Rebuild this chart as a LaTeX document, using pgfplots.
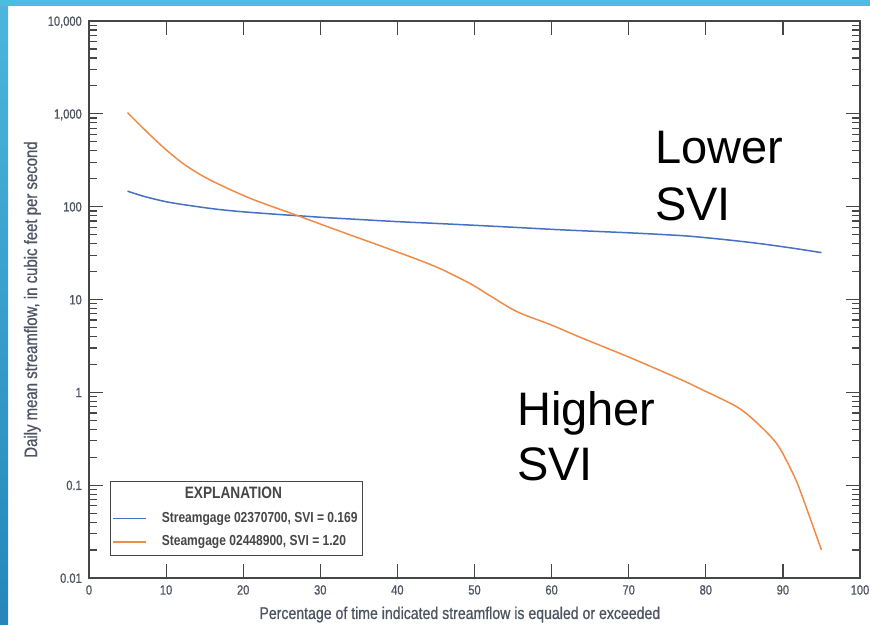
\documentclass[border=0pt]{standalone}
\usepackage{fontspec}
\setmainfont{Liberation Sans}
\newfontfamily\condfont[FakeStretch=0.83]{Liberation Sans}
\newfontfamily\condmed[FakeStretch=0.83, RawFeature={embolden=0.7}]{Liberation Sans}
\newfontfamily\annfont{Liberation Sans}
\usepackage{pgfplots}
\pgfplotsset{compat=1.18}

\definecolor{gageblue}{RGB}{72,112,192}
\definecolor{gageorange}{RGB}{240,140,72}
\definecolor{axisgray}{RGB}{70,70,70}
\definecolor{labelgray}{RGB}{78,84,98}
\definecolor{bartop}{RGB}{78,188,224}
\definecolor{barleft}{RGB}{76,182,220}
\definecolor{barbottom}{RGB}{38,134,186}

\begin{document}
\begin{tikzpicture}
% slide background
\fill[white] (0,0) rectangle (870pt,624pt);
\shade[top color=barleft, bottom color=barbottom] (0,0) rectangle (8pt,624pt);
\fill[bartop] (0,618pt) rectangle (870pt,624pt);

\begin{axis}[
  at={(89pt,46pt)}, anchor=south west,
  scale only axis,
  width=771pt, height=557pt,
  xmin=0, xmax=100,
  ymode=log, ymin=0.01, ymax=10000,
  xtick={0,10,...,100},
  ytick={0.01,0.1,1,10,100,1000,10000},
  yticklabels={0.01,0.1,1,10,100,{1,000},{10,000}},
  minor ytick={0.02,0.03,0.04,0.05,0.06,0.07,0.08,0.09,
    0.2,0.3,0.4,0.5,0.6,0.7,0.8,0.9,
    2,3,4,5,6,7,8,9,
    20,30,40,50,60,70,80,90,
    200,300,400,500,600,700,800,900,
    2000,3000,4000,5000,6000,7000,8000,9000},
  tick align=inside,
  major tick length=14pt,
  minor tick length=8pt,
  axis line style={axisgray, line width=1.3pt},
  every tick/.style={axisgray, line width=1.2pt},
  /pgf/number format/assume math mode=true,
  tick label style={font=\condmed\fontsize{13.4}{15}\selectfont, text=labelgray, inner sep=0pt},
  xticklabel style={anchor=north, yshift=-7pt},
  yticklabel style={anchor=base east, xshift=-7pt, yshift=-4.8pt},
  xlabel={Percentage of time indicated streamflow is equaled or exceeded},
  ylabel={Daily mean streamflow, in cubic feet per second},
  xlabel style={font=\condmed\fontsize{17}{19}\selectfont, text=labelgray,
    at={(axis description cs:0.481,-0.0736)}, anchor=base, inner sep=0pt},
  ylabel style={font=\condmed\fontsize{18}{20}\selectfont, text=labelgray,
    at={(axis description cs:-0.0674,0.5)}, anchor=base, inner sep=0pt},
  legend style={
    at={(axis description cs:0.0272,0.0395)}, anchor=south west,
    draw=axisgray, line width=1.1pt,
    inner xsep=2pt, inner ysep=4.5pt,
    column sep=12pt, row sep=5.5pt,
    font=\condfont\bfseries\fontsize{14.5}{16}\selectfont,
    text=axisgray,
    nodes={inner xsep=3pt, inner ysep=2pt, text height=11pt, text depth=3pt},
  },
  legend cell align=left,
  legend image code/.code={\draw[#1, line width=1.3pt] (0pt,0pt) -- (33pt,0pt);},
]
\addlegendimage{empty legend}
\addlegendentry{\hspace*{23pt}\fontsize{16.5}{17}\selectfont EXPLANATION}

\addplot[gageblue, line width=1.5pt, smooth] coordinates {
  (5,147) (7,130) (10,113) (13,103) (16.5,94) (20,88) (25,82) (27,80)
  (31,76) (34,73.6) (40,69) (45,66) (50,63) (55,60) (60,57) (64,55)
  (70,52.3) (74,50.3) (78,48) (83,43.7) (87,40) (91,36) (95,32)
};
\addlegendentry{Streamgage 02370700, SVI = 0.169}

\addplot[gageorange, line width=1.5pt, smooth] coordinates {
  (5,1030) (7.5,640) (10,410) (12.5,280) (15.7,194) (20.9,123) (26.9,81)
  (30,65) (33.9,49.5) (39.9,32.7) (45,22.5) (49.4,14.9) (52,11) (55.5,7.4)
  (60,5.3) (63.7,3.92) (70,2.4) (76.7,1.38) (79.2,1.10) (84,0.70)
  (86.5,0.48) (89.2,0.28) (91,0.15) (92.2,0.089) (95,0.020)
};
\addlegendentry{Steamgage 02448900, SVI = 1.20}
\end{axis}

% slide annotations
\begin{scope}[every node/.style={inner sep=0pt, anchor=base west,
    font=\annfont\fontsize{47}{56}\selectfont}]
\node at (655pt,460pt) {Lower};
\node at (655pt,403pt) {SVI};
\node at (517pt,198pt) {Higher};
\node at (517pt,143pt) {SVI};
\end{scope}

\pgfresetboundingbox
\useasboundingbox (0,0) rectangle (870pt,624pt);
\end{tikzpicture}
\end{document}
